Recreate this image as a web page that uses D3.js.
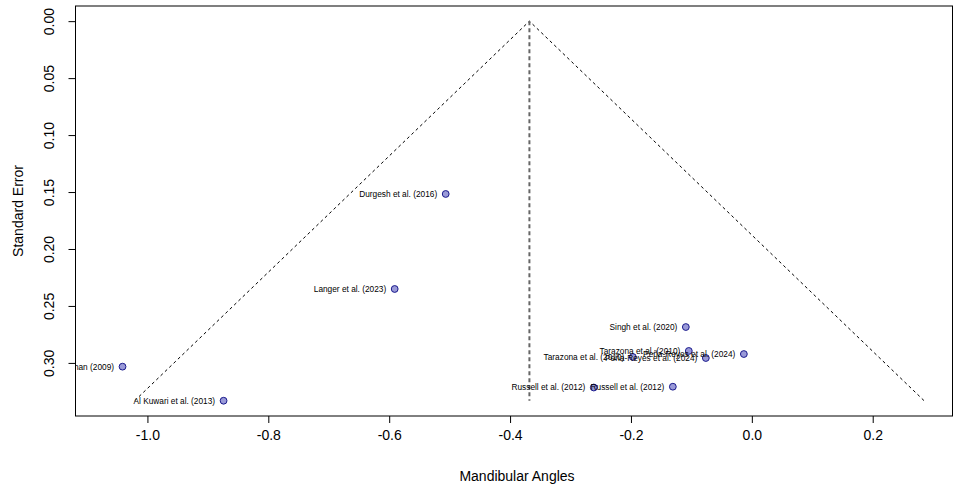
<!DOCTYPE html>
<html>
<head>
<meta charset="utf-8">
<script src="https://cdn.jsdelivr.net/npm/d3@7"></script>
<style>
  body { margin: 0; background: #fff; }
  svg { display: block; font-family: "Liberation Sans", Arial, sans-serif; }
</style>
</head>
<body>
<svg id="chart" width="953" height="492"></svg>
<script>
// ---- data ----
const studies = [
  "Durgesh et al. (2016)",
  "Langer et al. (2023)",
  "Singh et al. (2020)",
  "Tarazona et al. (2010)",
  "Tarazona et al. (2010)",
  "Peña-Reyes et al. (2024)",
  "Peña-Reyes et al. (2024)",
  "Russell et al. (2012)",
  "Russell et al. (2012)",
  "Al Kuwari et al. (2013)",
  "Kaur & Chauhan (2009)"
];
const effects = [-0.5065, -0.5909, -0.1092, -0.1969, -0.1043, -0.0132, -0.0761, -0.2615, -0.1307, -0.8740, -1.0412];
const stdErrors = [0.1517, 0.2351, 0.2685, 0.2948, 0.2895, 0.2922, 0.2957, 0.3216, 0.3209, 0.3332, 0.3033];
const pooledEffect = -0.368;
const xTicks = [-1.0, -0.8, -0.6, -0.4, -0.2, 0.0, 0.2];
const yTicks = [0.00, 0.05, 0.10, 0.15, 0.20, 0.25, 0.30];

// ---- layout ----
const svg = d3.select("#chart");
const pLeft = 75.5, pRight = 952.5, pTop = 6, pBottom = 416;
const seMax = d3.max(stdErrors);

const x = d3.scaleLinear().domain([-1.119, 0.332]).range([pLeft, pRight]);
const y = d3.scaleLinear().domain([-0.0133, 0.3466]).range([pTop, pBottom]);

svg.append("defs").append("clipPath").attr("id", "plotclip")
  .append("rect").attr("x", pLeft).attr("y", pTop)
  .attr("width", pRight - pLeft).attr("height", pBottom - pTop);

// funnel
const g = svg.append("g").attr("clip-path", "url(#plotclip)");
const funnel = [
  [pooledEffect - 1.96 * seMax, seMax],
  [pooledEffect, 0],
  [pooledEffect + 1.96 * seMax, seMax]
];
g.append("path")
  .attr("d", d3.line().x(d => x(d[0])).y(d => y(d[1]))(funnel))
  .attr("fill", "none").attr("stroke", "#000").attr("stroke-width", 1)
  .attr("stroke-dasharray", "3,3");

g.append("line")
  .attr("x1", x(pooledEffect)).attr("x2", x(pooledEffect))
  .attr("y1", y(0)).attr("y2", y(seMax))
  .attr("stroke", "#666").attr("stroke-width", 2)
  .attr("stroke-dasharray", "4,3");

const pts = studies.map((s, i) => ({ name: s, eff: effects[i], se: stdErrors[i] }));

g.selectAll("circle.pt").data(pts).enter().append("circle")
  .attr("class", "pt")
  .attr("cx", d => x(d.eff)).attr("cy", d => y(d.se)).attr("r", 3.4)
  .attr("fill", "#9a9ad8").attr("stroke", "#1a1a8c").attr("stroke-width", 1);

g.selectAll("text.lab").data(pts).enter().append("text")
  .attr("class", "lab")
  .attr("x", d => x(d.eff) - 8.5).attr("y", d => y(d.se))
  .attr("dy", "0.35em")
  .attr("text-anchor", "end")
  .attr("font-size", "8.3px").attr("fill", "#000")
  .text(d => d.name);

// box
svg.append("rect").attr("x", pLeft).attr("y", pTop)
  .attr("width", pRight - pLeft).attr("height", pBottom - pTop)
  .attr("fill", "none").attr("stroke", "#000").attr("stroke-width", 1);

const hy = f => d => f(d).replace("\u2212", "-");

// x axis
const xAxis = svg.append("g").attr("transform", `translate(0,${pBottom})`)
  .call(d3.axisBottom(x).tickValues(xTicks).tickFormat(hy(d3.format(".1f"))).tickSizeOuter(0).tickSize(7).tickPadding(7));
xAxis.select(".domain").remove();
xAxis.selectAll("text").attr("font-size", "14px").attr("font-family", "Liberation Sans, Arial, sans-serif").attr("fill", "#000");
xAxis.selectAll("line").attr("stroke", "#000");

// y axis
const yAxis = svg.append("g").attr("transform", `translate(${pLeft},0)`)
  .call(d3.axisLeft(y).tickValues(yTicks).tickFormat(hy(d3.format(".2f"))).tickSizeOuter(0).tickSize(7));
yAxis.select(".domain").remove();
yAxis.selectAll("line").attr("stroke", "#000");
yAxis.selectAll("text")
  .attr("font-size", "14px").attr("font-family", "Liberation Sans, Arial, sans-serif").attr("fill", "#000")
  .attr("x", 0).attr("dy", 0)
  .attr("text-anchor", "middle")
  .attr("transform", "translate(-22,0) rotate(-90)");

// axis titles
svg.append("text").attr("x", 517).attr("y", 481)
  .attr("text-anchor", "middle").attr("font-size", "14px").text("Mandibular Angles");
svg.append("text").attr("transform", `translate(23,${(pTop + pBottom) / 2}) rotate(-90)`)
  .attr("text-anchor", "middle").attr("font-size", "14px").text("Standard Error");
</script>
</body>
</html>
